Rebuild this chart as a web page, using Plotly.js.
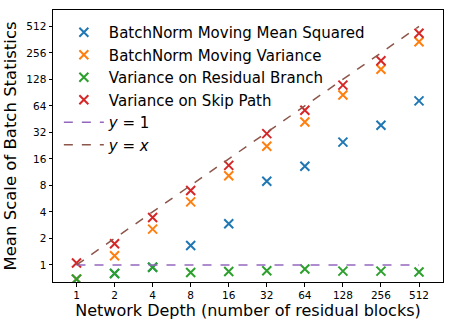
<!DOCTYPE html>
<html>
<head>
<meta charset="utf-8">
<script src="https://cdn.plot.ly/plotly-3.0.1.min.js"></script>
<style>
  html, body { margin: 0; padding: 0; background: #fff; }
  #chart { width: 453px; height: 325px; }
</style>
</head>
<body>
<div id="chart"></div>
<script>
// network depths (x) and the four measured statistics
const depth = [1, 2, 4, 8, 16, 32, 64, 128, 256, 512];
const meanSquared = [0.69, 0.80, 0.94, 1.66, 2.93, 8.9, 13.2, 24.8, 38.5, 73];
const movingVariance = [0.69, 1.27, 2.55, 5.2, 10.3, 22.3, 42, 85, 167, 342];
const residualVariance = [0.69, 0.80, 0.94, 0.82, 0.84, 0.86, 0.90, 0.85, 0.85, 0.83];
const skipVariance = [1.05, 1.74, 3.46, 7.0, 13.5, 31, 57, 110, 208, 427];
const ones = depth.map(() => 1);
const tickLabels = depth.map(String);

function markerTrace(name, y, color) {
    return {
        x: depth,
        y: y,
        name: name,
        type: 'scatter',
        mode: 'markers',
        marker: { symbol: 'x-thin', size: 9, color: color, line: { width: 2, color: color } }
    };
}

const traces = [
    markerTrace('BatchNorm Moving Mean Squared', meanSquared, '#1f77b4'),
    markerTrace('BatchNorm Moving Variance', movingVariance, '#ff7f0e'),
    markerTrace('Variance on Residual Branch', residualVariance, '#2ca02c'),
    markerTrace('Variance on Skip Path', skipVariance, '#d62728'),
    {
        x: depth, y: ones, name: '<i>y</i> = 1', type: 'scatter', mode: 'lines',
        line: { color: '#9467bd', width: 1.5, dash: 'dash' }
    },
    {
        x: depth, y: depth, name: '<i>y</i> = <i>x</i>', type: 'scatter', mode: 'lines',
        line: { color: '#8c564b', width: 1.5, dash: 'dash' }
    }
];

const axisBase = {
    type: 'log',
    showgrid: false,
    zeroline: false,
    showline: true,
    mirror: true,
    linecolor: '#000',
    linewidth: 1,
    ticks: 'outside',
    ticklen: 3.5,
    tickcolor: '#000',
    tickfont: { family: 'DejaVu Sans', size: 10.5, color: '#000' },
    tickvals: depth,
    ticktext: tickLabels
};

const layout = {
    width: 453,
    height: 325,
    margin: { l: 53, r: 10, t: 10, b: 43 },
    paper_bgcolor: '#fff',
    plot_bgcolor: '#fff',
    font: { family: 'DejaVu Sans', color: '#000' },
    showlegend: true,
    legend: {
        x: 0.015, y: 0.978, xanchor: 'left', yanchor: 'top',
        bgcolor: 'rgba(0,0,0,0)',
        font: { family: 'DejaVu Sans', size: 15, color: '#000' },
        itemwidth: 40
    },
    xaxis: Object.assign({}, axisBase, {
        range: [-0.186, 2.899],
        title: { text: 'Network Depth (number of residual blocks)', font: { size: 16 }, standoff: 2 }
    }),
    yaxis: Object.assign({}, axisBase, {
        range: [-0.194, 2.895],
        title: { text: 'Mean Scale of Batch Statistics', font: { size: 16.5 }, standoff: 5 }
    })
};

Plotly.newPlot('chart', traces, layout, { staticPlot: true });
</script>
</body>
</html>
